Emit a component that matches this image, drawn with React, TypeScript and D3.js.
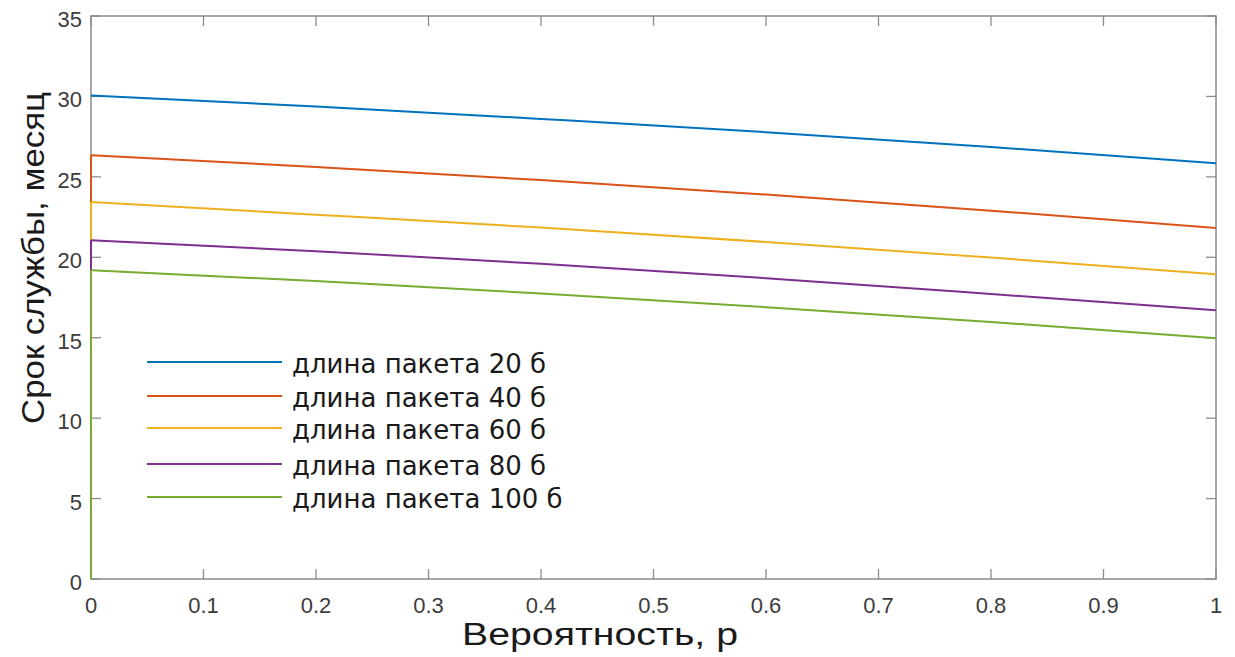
import React from "react";
import * as d3 from "d3";

// probability p
const pValues = [0, 0.2, 0.4, 0.6, 0.8, 1];

// service life, months, per packet length
const life20 = [30.06, 29.38, 28.6, 27.78, 26.86, 25.84];
const life40 = [26.34, 25.62, 24.8, 23.9, 22.9, 21.82];
const life60 = [23.43, 22.65, 21.85, 20.95, 19.98, 18.94];
const life80 = [21.06, 20.38, 19.6, 18.7, 17.72, 16.71];
const life100 = [19.19, 18.52, 17.75, 16.9, 15.98, 14.97];

// value at p = 0 before the jump (blue has none)
const startValues = [null, 0, 0, 0, 0];

const seriesNames = [
  "длина пакета 20 б",
  "длина пакета 40 б",
  "длина пакета 60 б",
  "длина пакета 80 б",
  "длина пакета 100 б",
];
const colors = ["#0072BD", "#D95319", "#EDB120", "#7E2F8E", "#77AC30"];

const xTicks = [0, 0.1, 0.2, 0.3, 0.4, 0.5, 0.6, 0.7, 0.8, 0.9, 1];
const yTicks = [0, 5, 10, 15, 20, 25, 30, 35];

const W = 1235;
const H = 657;
const left = 91;
const right = 1216;
const top = 16;
const bottom = 579;

export default function App() {
  const x = d3.scaleLinear().domain([0, 1]).range([left, right]);
  const y = d3.scaleLinear().domain([0, 35]).range([bottom, top]);

  const series = [life20, life40, life60, life80, life100];
  const line = d3
    .line<[number, number]>()
    .x((d) => x(d[0]))
    .y((d) => y(d[1]))
    .curve(d3.curveMonotoneX);

  const tickLen = 10;
  const tickColor = "#8c8c8c";
  const legendY = [362, 396, 428, 464, 497];
  const sans = "Liberation Sans, Arial, sans-serif";

  return (
    <svg
      width={W}
      height={H}
      style={{ position: "absolute", left: 0, top: 0, background: "#fff" }}
    >
      {/* axes box */}
      <rect
        x={left}
        y={top}
        width={right - left}
        height={bottom - top}
        fill="none"
        stroke={tickColor}
        strokeWidth={1.5}
      />
      {xTicks.map((t) => (
        <g key={"x" + t}>
          <line x1={x(t)} x2={x(t)} y1={bottom} y2={bottom - tickLen} stroke={tickColor} strokeWidth={1.3} />
          <line x1={x(t)} x2={x(t)} y1={top} y2={top + tickLen} stroke={tickColor} strokeWidth={1.3} />
          <text x={x(t)} y={bottom + 34} textAnchor="middle" fontFamily={sans} fontSize={22} fill="#3c3c3c">
            {String(t)}
          </text>
        </g>
      ))}
      {yTicks.map((t) => (
        <g key={"y" + t}>
          <line x1={left} x2={left + tickLen} y1={y(t)} y2={y(t)} stroke={tickColor} strokeWidth={1.3} />
          <line x1={right} x2={right - tickLen} y1={y(t)} y2={y(t)} stroke={tickColor} strokeWidth={1.3} />
          <text x={left - 9} y={y(t) + 11} textAnchor="end" fontFamily={sans} fontSize={22} fill="#3c3c3c">
            {String(t)}
          </text>
        </g>
      ))}

      {/* curves */}
      {series.map((vals, i) => {
        const pts: [number, number][] = pValues.map((p, j) => [p, vals[j]]);
        const s = startValues[i];
        const path = line(pts) as string;
        return (
          <g key={"s" + i}>
            {s !== null && (
              <line x1={x(0)} x2={x(0)} y1={y(s)} y2={y(vals[0])} stroke={colors[i]} strokeWidth={2} />
            )}
            <path d={path} fill="none" stroke={colors[i]} strokeWidth={2} />
          </g>
        );
      })}

      {/* legend */}
      {seriesNames.map((name, i) => (
        <g key={"l" + i}>
          <line x1={147} x2={282} y1={legendY[i]} y2={legendY[i]} stroke={colors[i]} strokeWidth={2} />
          <text
            x={292}
            y={legendY[i] + 11}
            fontFamily="DejaVu Sans, Verdana, sans-serif"
            fontSize={26}
            fill="#1a1a1a"
          >
            {name}
          </text>
        </g>
      ))}

      {/* axis labels */}
      <text
        x={600}
        y={645}
        textAnchor="middle"
        fontFamily={sans}
        fontSize={31}
        textLength={276}
        lengthAdjust="spacingAndGlyphs"
        fill="#1a1a1a"
      >
        Вероятность, p
      </text>
      <text
        transform={`translate(44, 258) rotate(-90)`}
        textAnchor="middle"
        fontFamily={sans}
        fontSize={32}
        textLength={332}
        lengthAdjust="spacingAndGlyphs"
        fill="#1a1a1a"
      >
        Срок службы, месяц
      </text>
    </svg>
  );
}
